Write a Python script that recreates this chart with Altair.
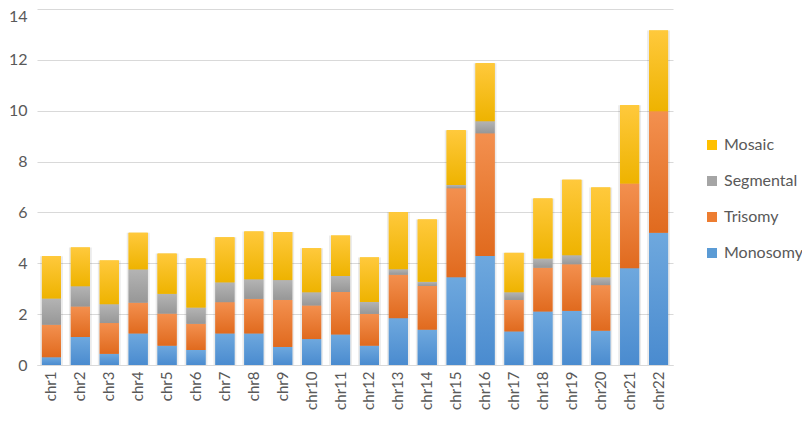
import altair as alt
import pandas as pd

chromosomes = [f"chr{i}" for i in range(1, 23)]
monosomy  = [0.30, 1.10, 0.44, 1.24, 0.76, 0.59, 1.24, 1.24, 0.71, 1.02, 1.20, 0.76,
             1.84, 1.39, 3.45, 4.29, 1.32, 2.10, 2.13, 1.35, 3.80, 5.20]
trisomy   = [1.28, 1.20, 1.21, 1.21, 1.26, 1.03, 1.23, 1.36, 1.85, 1.32, 1.67, 1.25,
             1.71, 1.72, 3.50, 4.82, 1.24, 1.72, 1.83, 1.79, 3.34, 4.78]
segmental = [1.04, 0.80, 0.74, 1.31, 0.78, 0.64, 0.78, 0.77, 0.78, 0.52, 0.63, 0.47,
             0.22, 0.16, 0.13, 0.48, 0.30, 0.37, 0.36, 0.31, 0.00, 0.00]
mosaic    = [1.66, 1.52, 1.72, 1.44, 1.58, 1.93, 1.77, 1.88, 1.89, 1.73, 1.59, 1.75,
             2.24, 2.45, 2.15, 2.28, 1.55, 2.36, 2.97, 3.53, 3.07, 3.17]

series_names = ["Monosomy", "Trisomy", "Segmental", "Mosaic"]
series_values = [monosomy, trisomy, segmental, mosaic]
legend_order = ["Mosaic", "Segmental", "Trisomy", "Monosomy"]
legend_colors = ["#ffc000", "#a5a5a5", "#ed7d31", "#5b9bd5"]
# light (top) / dark (bottom) shades for each series' gradient
gradient_shades = {
    "Monosomy": ("#6ea8de", "#4a8bcf"),
    "Trisomy": ("#f3904f", "#e06a1e"),
    "Segmental": ("#b4b4b4", "#979797"),
    "Mosaic": ("#ffc93c", "#eeb300"),
}

rows = []
for k, (name, vals) in enumerate(zip(series_names, series_values)):
    for c, v in zip(chromosomes, vals):
        rows.append({"chrom": c, "type": name, "value": v, "ord": k})
df = pd.DataFrame(rows)

FONT = "Lato"
TXT = "#595959"
xscale = alt.Scale(paddingInner=0.34, paddingOuter=0.17)
yscale = alt.Scale(domain=[0, 14], nice=False)


def x_enc():
    return alt.X("chrom:N", sort=chromosomes, title=None, scale=xscale,
                 axis=alt.Axis(labelAngle=-90, ticks=False, domainColor="#d9d9d9",
                               labelFont=FONT, labelFontSize=15, labelColor=TXT,
                               labelPadding=6, grid=False))


def y_axis():
    return alt.Axis(values=list(range(0, 15, 2)), ticks=False, domain=False,
                    gridColor="#d9d9d9", labelFont=FONT, labelFontSize=16,
                    labelColor=TXT, labelPadding=10,
                    labelOffset={"condition": {"test": "datum.value == 14", "value": 7}, "value": 0})


base = alt.Chart(df)

shadow = base.transform_aggregate(
    total="sum(value)", groupby=["chrom"]
).mark_bar(color="#000000", opacity=0.08, width={"band": 1.2}).encode(
    x=x_enc(),
    y=alt.Y("total:Q", title=None, scale=yscale, axis=y_axis()),
)

flat = base.mark_bar().encode(
    x=x_enc(),
    y=alt.Y("value:Q", stack="zero", title=None, scale=yscale, axis=y_axis()),
    color=alt.Color("type:N", title=None,
                    scale=alt.Scale(domain=legend_order, range=legend_colors),
                    legend=alt.Legend(orient="none", legendX=667, legendY=128,
                                      symbolType="square", symbolSize=100,
                                      symbolStrokeWidth=0, labelFont=FONT,
                                      labelFontSize=16, labelColor=TXT,
                                      rowPadding=20, labelOffset=4)),
    order=alt.Order("ord:Q", sort="ascending"),
)

stacked = base.transform_stack(
    stack="value", as_=["y0", "y1"], groupby=["chrom"],
    sort=[alt.SortField("ord", order="ascending")],
)

overlays = []
for name in series_names:
    light, dark = gradient_shades[name]
    grad = alt.LinearGradient(
        gradient="linear", x1=0, x2=0, y1=0, y2=1,
        stops=[alt.GradientStop(color=light, offset=0),
               alt.GradientStop(color=dark, offset=1)],
    )
    overlays.append(
        stacked.transform_filter(alt.datum.type == name)
        .transform_filter(alt.datum.value > 0)
        .mark_bar(color=grad)
        .encode(
            x=x_enc(),
            y=alt.Y("y0:Q", title=None, scale=yscale, axis=y_axis()),
            y2="y1:Q",
        )
    )

chart = alt.layer(shadow, flat, *overlays).properties(
    width=636, height=356,
    autosize=alt.AutoSizeParams(type="none"),
    padding={"left": 29, "top": 1, "right": 129, "bottom": 49},
).configure(background="white").configure_view(stroke=None)

chart.save("out.html", embed_options={"renderer": "svg", "actions": False})
